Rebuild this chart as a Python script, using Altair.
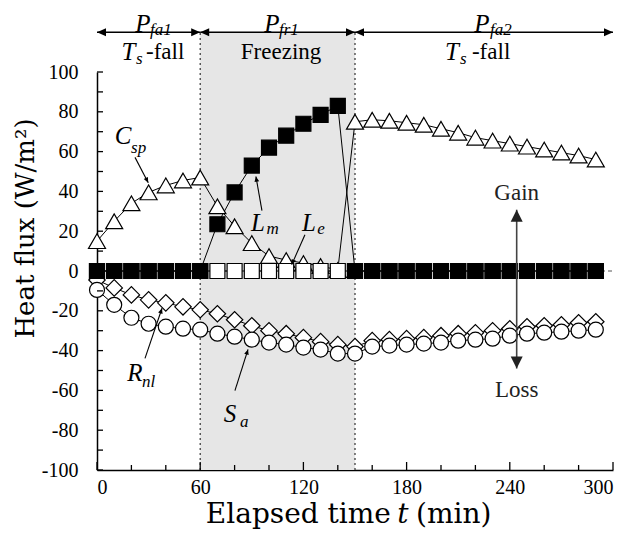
import math
import altair as alt
import pandas as pd

# ---------------- data ----------------
t = list(range(0, 300, 10))
C_sp = [15, 25, 34, 39.5, 43, 45.5, 47, 32.5, 22.5, 14, 7.5, 5.5, 4, 2.5, 0.5,
        75, 76, 75.5, 74.5, 73.5, 71.5, 69.5, 67, 65.5, 64, 62.5, 61, 59.5, 58, 56]
L_m = [0] * 7 + [23.5, 39.5, 53, 62, 68, 74, 78.5, 83] + [0] * 15
L_e = [0] * 30
R_nl = [-4.5, -8.5, -12, -14.5, -16, -18, -19.5, -21.5, -24.5, -27.5,
        -30, -31.5, -33.5, -35.5, -37, -38, -35, -34.5, -34, -33.5,
        -32.5, -31.5, -31, -30, -29, -28, -27.5, -27, -26, -25.5]
S_a = [-9.5, -17, -23.5, -26.5, -28, -29, -29.5, -31.5, -33, -34.5,
       -36, -37, -38.5, -39.5, -41.5, -41.5, -38, -37.5, -37, -36.5,
       -36, -35, -34.5, -34, -32.5, -31.5, -31, -30.5, -30, -29.5]

period_bounds = [0, 60, 150, 300]
x_label_vals = [0, 60, 120, 180, 240, 300]
x_minor_ticks = list(range(0, 301, 20))
y_label_vals = list(range(-100, 101, 20))
y_ticks = list(range(-100, 101, 10))

# annotation texts (x, y in data units)
main_italic = [  # big italic letters
    (15.1, 67.7, "C"), (93.6, 24.2, "L"), (123.3, 24.2, "L"),
    (22.1, -51.5, "R"), (77.3, -71.7, "S"),
    (26.7, 124.2, "P"), (101.7, 124.2, "P"), (223.8, 124.2, "P"),
    (18.3, 110, "T"), (206.4, 110, "T"),
]
sub_italic = [  # subscripts (left aligned)
    (19.8, 61.6, "sp"), (98.6, 21.2, "m"), (128, 21.2, "e"),
    (26.2, -56, "nl"), (83.1, -75.8, "a"),
    (30.8, 121, "fa1"), (105.8, 121, "fr1"), (228.5, 121, "fa2"),
    (22.7, 106.6, "s"), (211, 106.6, "s"),
]
normal_left = [(28.5, 110, "-fall"), (218, 110, "-fall")]
normal_center = [(107, 110, "Freezing"), (244, 39.4, "Gain"), (244, -60, "Loss")]
xtitle_right = [(170.9, -122.5, "Elapsed time")]
xtitle_italic = [(177.9, -122.5, "t")]
xtitle_left = [(185.5, -122.5, "(min)")]

leaders = [  # x, y, x2, y2 (arrow tip at x2, y2)
    (22.1, 57.1, 29.8, 44.4),
    (95.9, 30.3, 92.4, 47.5),
    (120.9, 18.2, 113.2, 3.2),
    (27.9, -43.9, 37.8, -18.7),
    (80.2, -60.1, 87.8, -39.4),
]
gain_loss = (244, 30.8, -49)
top_arrow_y = 120

# ---------------- chart ----------------
FONT = "Liberation Serif"
TFONT = "DejaVu Serif"
W, H = 516, 398
XR, YR = 300.0, 200.0
xs = alt.Scale(domain=[0, 300], nice=False, zero=False)
ys = alt.Scale(domain=[-100, 100], nice=False, zero=False)

x_axis = alt.Axis(values=x_label_vals, labelFont=FONT, labelFontSize=20, labelColor="black",
                  ticks=False, tickSize=0, domainColor="black", domainWidth=1.5, grid=False,
                  title=None, labelPadding=7, labelExpr="'' + datum.value")
y_axis = alt.Axis(values=y_label_vals, labelFont=FONT, labelFontSize=20, labelColor="black",
                  ticks=False, tickSize=0, domainColor="black", domainWidth=1.5, grid=False,
                  title="Heat flux (W/m²)", titleFont=TFONT, titleFontSize=26,
                  titleFontWeight="normal", titleColor="black", titleX=-72, titleY=156,
                  titleAngle=270, titleAlign="center", titleBaseline="middle",
                  labelPadding=19, labelExpr="'' + datum.value")


def X(f):
    return alt.X(f"{f}:Q", scale=xs, axis=x_axis)


def Y(f):
    return alt.Y(f"{f}:Q", scale=ys, axis=y_axis)


series = {"C_sp": C_sp, "L_m": L_m, "L_e": L_e, "R_nl": R_nl, "S_a": S_a}
long = pd.DataFrame(
    [{"t": tt, "v": vv, "s": k} for k, vals in series.items() for tt, vv in zip(t, vals)]
)

layers = []

# shaded freezing period
shade = pd.DataFrame({"x1": [period_bounds[1]], "x2": [period_bounds[2]],
                      "y1": [-100], "y2": [top_arrow_y]})
layers.append(alt.Chart(shade).mark_rect(color="#e6e6e6", clip=False).encode(
    x=X("x1"), x2="x2:Q", y=Y("y1"), y2="y2:Q"))

# dotted boundaries
vb = pd.DataFrame({"x": period_bounds[1:3], "y1": [-100, -100], "y2": [top_arrow_y] * 2})
layers.append(alt.Chart(vb).mark_rule(color="#333", strokeWidth=1.2, strokeDash=[2, 3],
                                      clip=False).encode(x=X("x"), y=Y("y1"), y2="y2:Q"))

# dashed zero line
zl = pd.DataFrame({"x1": [0], "x2": [300], "y": [0]})
layers.append(alt.Chart(zl).mark_rule(color="#555", strokeWidth=1, strokeDash=[4, 3]).encode(
    x=X("x1"), x2="x2:Q", y=Y("y")))

# series lines
layers.append(alt.Chart(long).mark_line(color="black", strokeWidth=1).encode(
    x=X("t"), y=Y("v"), detail="s:N", order="t:Q"))


def pts(name, shape, size, fill):
    return alt.Chart(long[long.s == name]).mark_point(
        shape=shape, size=size, filled=True, fill=fill, stroke="black",
        strokeWidth=1.2, opacity=1).encode(x=X("t"), y=Y("v"))


layers += [
    pts("C_sp", "triangle-up", 289, "white"),
    pts("R_nl", "diamond", 270, "white"),
    pts("S_a", "circle", 225, "white"),
    pts("L_e", "square", 225, "white"),
    pts("L_m", "square", 225, "black"),
]

# inward ticks
layers.append(alt.Chart(pd.DataFrame({"v": y_ticks})).mark_rule(color="black", strokeWidth=1.3).encode(
    y=Y("v"), x=alt.value(0), x2=alt.value(6)))
minor = [v for v in x_minor_ticks if v not in x_label_vals]
layers.append(alt.Chart(pd.DataFrame({"v": minor})).mark_rule(color="black", strokeWidth=1.3).encode(
    x=X("v"), y=alt.value(H), y2=alt.value(H - 5)))
layers.append(alt.Chart(pd.DataFrame({"v": x_label_vals})).mark_rule(color="black", strokeWidth=1.3).encode(
    x=X("v"), y=alt.value(H), y2=alt.value(H - 8)))

# top period arrows
seg = pd.DataFrame({"x1": period_bounds[:-1], "x2": period_bounds[1:], "y": [top_arrow_y] * 3})
layers.append(alt.Chart(seg).mark_rule(color="black", strokeWidth=1.5, clip=False).encode(
    x=X("x1"), x2="x2:Q", y=Y("y")))
ARROW_R = "M0,0L-1,-0.45L-1,0.45Z"
ARROW_L = "M0,0L1,-0.45L1,0.45Z"
ARROW_U = "M0,0L-0.5,1L0.5,1Z"
ARROW_D = "M0,0L-0.5,-1L0.5,-1Z"
heads_r = pd.DataFrame({"x": period_bounds[1:], "y": [top_arrow_y] * 3})
heads_l = pd.DataFrame({"x": period_bounds[:-1], "y": [top_arrow_y] * 3})
for d, shp in ((heads_r, ARROW_R), (heads_l, ARROW_L)):
    layers.append(alt.Chart(d).mark_point(shape=shp, size=324, filled=True, color="black",
                                          opacity=1, clip=False).encode(x=X("x"), y=Y("y")))

# gain / loss arrow
gx, gtop, gbot = gain_loss
gl = pd.DataFrame({"x": [gx], "y1": [gbot], "y2": [gtop]})
layers.append(alt.Chart(gl).mark_rule(color="#444", strokeWidth=1.6).encode(
    x=X("x"), y=Y("y1"), y2="y2:Q"))
layers.append(alt.Chart(pd.DataFrame({"x": [gx], "y": [gtop]})).mark_point(
    shape=ARROW_U, size=576, filled=True, color="#222", opacity=1).encode(x=X("x"), y=Y("y")))
layers.append(alt.Chart(pd.DataFrame({"x": [gx], "y": [gbot]})).mark_point(
    shape=ARROW_D, size=576, filled=True, color="#222", opacity=1).encode(x=X("x"), y=Y("y")))

# leader lines with small arrow heads
ld = pd.DataFrame(leaders, columns=["x1", "y1", "x2", "y2"])
ld["ang"] = [
    math.degrees(math.atan2((r.x2 - r.x1) * W / XR, (r.y2 - r.y1) * H / YR)) % 360
    for r in ld.itertuples()
]
layers.append(alt.Chart(ld).mark_rule(color="black", strokeWidth=1.1).encode(
    x=X("x1"), y=Y("y1"), x2="x2:Q", y2="y2:Q"))
layers.append(alt.Chart(ld).mark_point(shape="M0,0L-0.45,1L0.45,1Z", size=110, filled=True,
                                       color="black", opacity=1).encode(
    x=X("x2"), y=Y("y2"), angle=alt.Angle("ang:Q", scale=None)))


def texts(rows, size, align, style="normal", color="black", font=FONT):
    d = pd.DataFrame(rows, columns=["x", "y", "txt"])
    return alt.Chart(d).mark_text(font=font, fontSize=size, fontStyle=style, align=align,
                                  baseline="middle", color=color, clip=False).encode(
        x=X("x"), y=Y("y"), text="txt:N")


layers += [
    texts(main_italic, 25, "center", "italic"),
    texts(sub_italic, 17, "left", "italic"),
    texts(normal_left, 23, "left"),
    texts(normal_center[:1], 23, "center"),
    texts(normal_center[1:], 23, "center", color="#222"),
    texts(xtitle_right, 28, "right", font=TFONT),
    texts(xtitle_italic, 28, "center", "italic", font=TFONT),
    texts(xtitle_left, 28, "left", font=TFONT),
]

chart = alt.layer(*layers).properties(
    width=W, height=H,
    autosize=alt.AutoSizeParams(type="none"),
    padding={"left": 89, "top": 64, "right": 11, "bottom": 62},
).configure_view(stroke=None)

chart.save("out.html", embed_options={"renderer": "svg", "actions": False})
